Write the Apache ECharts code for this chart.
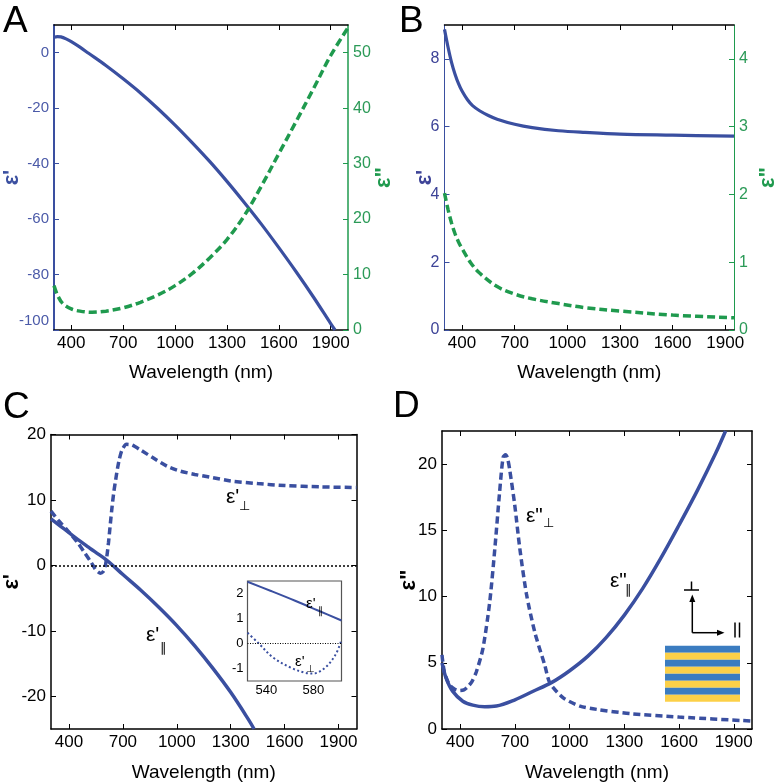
<!DOCTYPE html>
<html><head><meta charset="utf-8">
<script src="https://cdn.jsdelivr.net/npm/echarts@6/dist/echarts.min.js"></script>
<style>html,body{margin:0;padding:0;background:#fff}#c{width:780px;height:783px}</style>
</head><body><div id="c"></div><script>
// ---------- data (wavelength in nm) ----------
const xTickValues = [400, 700, 1000, 1300, 1600, 1900];
const insetXTicks = [540, 580];

// Panel A : metal
const aRealWl  = [300, 320, 340, 370, 400, 450, 500, 600, 700, 800, 900, 1000, 1100, 1200, 1300, 1400, 1500, 1600, 1700, 1800, 1900, 1925];
const aRealEps = [5.6, 5.8, 5.7, 5.0, 4.0, 2.0, -0.2, -4.6, -9.4, -14.5, -20.1, -26.1, -32.5, -39.2, -46.4, -54.0, -61.9, -70.3, -79.0, -88.1, -97.7, -100];
const aImagWl  = [300, 320, 350, 400, 450, 520, 600, 700, 800, 900, 1000, 1100, 1200, 1300, 1400, 1500, 1600, 1700, 1800, 1900, 2000];
const aImagEps = [8.0, 6.3, 4.8, 3.8, 3.4, 3.2, 3.4, 4.0, 5.0, 6.3, 8.0, 10.2, 13.0, 16.3, 20.6, 26.0, 31.8, 37.6, 43.5, 49.5, 54.5];
const aLeftTicks  = [-100, -80, -60, -40, -20, 0];
const aRightTicks = [0, 10, 20, 30, 40, 50];

// Panel B : dielectric
const bRealWl  = [300, 320, 340, 360, 380, 400, 430, 460, 500, 550, 600, 700, 800, 950, 1100, 1300, 1600, 1950];
const bRealEps = [8.87, 8.35, 7.9, 7.55, 7.27, 7.05, 6.8, 6.62, 6.47, 6.33, 6.22, 6.07, 5.97, 5.88, 5.83, 5.78, 5.75, 5.72];
const bImagWl  = [300, 320, 340, 360, 380, 400, 450, 500, 600, 700, 800, 950, 1100, 1300, 1600, 1950];
const bImagEps = [2.02, 1.78, 1.58, 1.42, 1.3, 1.2, 0.99, 0.84, 0.64, 0.53, 0.46, 0.39, 0.33, 0.28, 0.22, 0.18];
const bLeftTicks  = [0, 2, 4, 6, 8];
const bRightTicks = [0, 1, 2, 3, 4];

// Panel C : effective eps'
const cParWl   = [300, 350, 400, 450, 500, 524, 563, 604, 650, 700, 800, 900, 1000, 1100, 1200, 1300, 1400, 1430];
const cParEps  = [7.1, 6.05, 5.0, 3.95, 2.95, 2.47, 1.73, 0.92, -0.15, -1.4, -3.8, -6.4, -9.2, -12.3, -15.7, -19.4, -23.6, -25];
const cPerpWl  = [300, 340, 390, 450, 490, 524, 546, 561, 575, 590, 600, 610, 620, 630, 640, 650, 660, 670, 680, 695, 720, 750, 800, 870, 950, 1020, 1100, 1200, 1300, 1450, 1600, 1800, 2000];
const cPerpEps = [8.3, 6.9, 5.4, 3.4, 1.8, 0.43, -0.57, -0.97, -1.2, -0.97, -0.35, 1.2, 3.5, 6.3, 9.0, 11.3, 13.1, 14.8, 16.2, 17.6, 18.5, 18.4, 17.6, 16.4, 15.1, 14.4, 13.9, 13.4, 12.9, 12.5, 12.2, 12.0, 11.9];
const cYTicks  = [-20, -10, 0, 10, 20];

// Panel C inset
const insetParWl   = [524, 544, 564, 584, 604];
const insetParEps  = [2.47, 2.1, 1.72, 1.32, 0.92];
const insetPerpWl  = [524, 533, 546, 561, 573, 580, 590, 599, 604];
const insetPerpEps = [0.43, 0.03, -0.57, -0.97, -1.17, -1.2, -0.97, -0.44, 0.15];
const insetYTicks  = [-1, 0, 1, 2];

// Panel D : effective eps''
const dParWl   = [300, 323, 359, 414, 469, 534, 598, 700, 800, 900, 1000, 1100, 1200, 1300, 1400, 1500, 1600, 1700, 1800, 1855];
const dParEps  = [5.0, 3.83, 2.84, 2.1, 1.8, 1.68, 1.73, 2.2, 2.85, 3.5, 4.4, 5.5, 6.9, 8.6, 10.6, 12.9, 15.4, 18.0, 20.8, 22.5];
const dPerpWl  = [300, 313, 341, 370, 396, 420, 442, 465, 488, 524, 561, 589, 616, 635, 649, 660, 671, 699, 726, 763, 809, 864, 892, 965, 1057, 1149, 1332, 1600, 2000];
const dPerpEps = [5.6, 4.3, 3.33, 3.0, 2.9, 2.95, 3.2, 3.6, 4.3, 6.05, 9.5, 13.5, 17.9, 20.5, 20.7, 20.4, 19.6, 16.9, 13.7, 10.2, 7.3, 4.8, 3.46, 2.35, 1.73, 1.48, 1.16, 0.9, 0.6];
const dYTicks  = [0, 5, 10, 15, 20];

// ---------- styling ----------
const FONT = "'Liberation Sans', Arial, Helvetica, sans-serif";
const BLUE = '#3a4fa0';
const GREEN = '#1f9a4e';
const BLUE_TXT = '#4b5aa8';
const BLUE_TXT_B = '#3d4397';
const GREEN_TXT = '#2b9a57';
const plain = v => String(v);

const zip = (xs, ys) => xs.map((x, i) => [x, ys[i]]);

function xPair(gi, min, max, ticks, o) {
  o = o || {};
  const base = {
    type: 'value', gridIndex: gi, min: min, max: max,
    splitLine: { show: false },
    axisLine: { show: o.noLine ? false : true, onZero: false, lineStyle: { color: o.color || '#000', width: o.lw || 1.5 } },
    axisTick: { show: true, inside: true, length: o.tl || 5, customValues: ticks, lineStyle: { color: o.tickColor || '#000', width: 1 } }
  };
  const bottom = Object.assign({}, base, {
    position: 'bottom',
    axisLabel: { show: true, customValues: ticks, formatter: plain, fontSize: o.fs || 17, color: '#000', margin: o.margin || 5, fontFamily: FONT },
    name: o.name || '', nameLocation: 'middle', nameGap: o.nameGap || 33, nameMoveOverlap: false,
    nameTextStyle: { fontSize: 19, color: '#000', fontFamily: FONT }
  });
  const top = Object.assign({}, base, { position: 'top', axisLabel: { show: false } });
  return [bottom, top];
}

function yAx(gi, pos, min, max, ticks, o) {
  o = o || {};
  const label = { show: o.label !== false, customValues: ticks, formatter: o.formatter || plain, fontSize: o.fs || 17, color: o.textColor || '#000', margin: o.margin || 5, fontFamily: FONT };
  if (o.rich) label.rich = o.rich;
  return {
    type: 'value', gridIndex: gi, position: pos, min: min, max: max,
    splitLine: { show: false },
    axisLine: { show: o.noLine ? false : true, onZero: false, lineStyle: { color: o.color || '#000', width: o.lw || 1.5 } },
    axisTick: { show: true, inside: true, length: o.tl || 5, customValues: ticks, lineStyle: { color: o.tickColor || o.color || '#000', width: 1 } },
    axisLabel: label,
    name: o.name || '', nameLocation: 'middle', nameRotate: 90, nameGap: o.nameGap || 20, nameMoveOverlap: false,
    nameTextStyle: { fontSize: 22, fontWeight: 'bold', color: o.nameColor || '#000', fontFamily: FONT }
  };
}

const xAxes = [].concat(
  xPair(0, 300, 2000, xTickValues, { name: 'Wavelength (nm)', nameGap: 33 }),
  xPair(1, 300, 1950, xTickValues, { name: 'Wavelength (nm)', nameGap: 33 }),
  xPair(2, 300, 2000, xTickValues, { name: 'Wavelength (nm)', nameGap: 34 }),
  xPair(3, 300, 2000, xTickValues, { name: 'Wavelength (nm)', nameGap: 34 }),
  xPair(4, 524, 604, insetXTicks, { noLine: true, fs: 13, margin: 3, tl: 3, tickColor: '#333' })
);

const yAxes = [
  yAx(0, 'left', -100, 10, aLeftTicks, { color: BLUE, lw: 2, textColor: BLUE_TXT, fs: 15, name: "ε'", nameColor: BLUE, nameGap: 31,
    formatter: v => (v === -100 ? '{up|-100}' : String(v)),
    rich: { up: { fontSize: 15, color: BLUE_TXT, fontFamily: FONT, padding: [0, 0, 18, 0] } } }),
  yAx(0, 'right', 0, 55, aRightTicks, { color: GREEN, lw: 1.5, textColor: GREEN_TXT, fs: 16, name: 'ε"', nameColor: GREEN, nameGap: 25 }),
  yAx(1, 'left', 0, 9, bLeftTicks, { color: BLUE, lw: 1, textColor: BLUE_TXT_B, fs: 16, name: "ε'", nameColor: BLUE_TXT_B, nameGap: 9 }),
  yAx(1, 'right', 0, 4.5, bRightTicks, { color: GREEN, lw: 1, textColor: GREEN_TXT, fs: 16, name: 'ε"', nameColor: GREEN, nameGap: 23 }),
  yAx(2, 'left', -25, 20, cYTicks, { name: "ε'", nameGap: 28 }),
  yAx(2, 'right', -25, 20, cYTicks, { label: false }),
  yAx(3, 'left', 0, 22.5, dYTicks, { name: 'ε"', nameGap: 22 }),
  yAx(3, 'right', 0, 22.5, dYTicks, { label: false }),
  yAx(4, 'left', -1.5, 2.5, insetYTicks, { noLine: true, fs: 13, margin: 4, tl: 3, tickColor: '#333' }),
  yAx(4, 'right', -1.5, 2.5, insetYTicks, { noLine: true, label: false, tl: 3, tickColor: '#333' })
];

function line(xi, yi, data, color, width, dash, smooth) {
  return {
    type: 'line', xAxisIndex: xi, yAxisIndex: yi, data: data, showSymbol: false, symbol: 'none',
    smooth: smooth === undefined ? 0.35 : smooth, animation: false, silent: true,
    lineStyle: { color: color, width: width, type: dash || 'solid', cap: 'butt' }
  };
}

const series = [
  line(0, 0, zip(aRealWl, aRealEps), BLUE, 3.2),
  line(0, 1, zip(aImagWl, aImagEps), GREEN, 3.5, [8, 4]),
  line(2, 2, zip(bRealWl, bRealEps), BLUE, 3.2),
  line(2, 3, zip(bImagWl, bImagEps), GREEN, 3.5, [8, 4]),
  Object.assign(line(4, 4, zip(cParWl, cParEps), BLUE, 3.5), {
    markLine: { silent: true, symbol: ['none', 'none'], label: { show: false },
      lineStyle: { color: '#000', type: [2, 2], width: 1.5 }, data: [{ yAxis: 0 }] }
  }),
  line(4, 4, zip(cPerpWl, cPerpEps), BLUE, 3.5, [7, 4], 0.25),
  line(6, 6, zip(dParWl, dParEps), BLUE, 3.5),
  line(6, 6, zip(dPerpWl, dPerpEps), BLUE, 3.5, [7, 4], 0.25),
  Object.assign(line(8, 8, zip(insetParWl, insetParEps), BLUE, 2), {
    markLine: { silent: true, symbol: ['none', 'none'], label: { show: false },
      lineStyle: { color: '#000', type: [1, 1.5], width: 1 }, data: [{ yAxis: 0 }] }
  }),
  line(8, 8, zip(insetPerpWl, insetPerpEps), BLUE, 2, [2, 2.5])
];

function txt(text, x, y, size, color, weight) {
  return { type: 'text', x: x, y: y, silent: true, z: 100,
    style: { text: text, fontSize: size, fontFamily: FONT, fill: color || '#000', fontWeight: weight || 'normal', textAlign: 'left', textVerticalAlign: 'middle' } };
}
function seg(x1, y1, x2, y2, w) {
  return { type: 'line', silent: true, z: 100, shape: { x1: x1, y1: y1, x2: x2, y2: y2 }, style: { stroke: '#000', lineWidth: w || 1.5 } };
}
function tri(points) {
  return { type: 'polygon', silent: true, z: 100, shape: { points: points }, style: { fill: '#000' } };
}

const stripeColors = ['#3b7cc0', '#fcd048', '#3b7cc0', '#fcd048', '#3b7cc0', '#fcd048', '#3b7cc0', '#fcd048'];
const stripes = stripeColors.map((c, i) => ({ type: 'rect', silent: true, z: 100, shape: { x: 665, y: 645.7 + i * 7, width: 75, height: 7.1 }, style: { fill: c } }));

const graphics = [
  txt('A', 3, 22, 37), txt('B', 399, 22, 37), txt('C', 3, 408, 37), txt('D', 393, 407, 37),
  // panel C labels
  txt("ε'", 226, 497, 21), txt('⊥', 239, 506, 13),
  txt("ε'", 146, 635, 21), txt('∥', 160, 648, 13),
  // inset labels
  txt("ε'", 306, 604, 15), txt('∥', 318, 611, 10),
  txt("ε'", 295, 662, 15), txt('⊥', 306, 669, 10),
  // panel D labels
  txt('ε"', 526, 516, 21), txt('⊥', 543, 523.5, 13),
  txt('ε"', 610, 581, 21), txt('∥', 625, 590, 13)
].concat(stripes, [
  seg(684, 590, 699, 590, 1.5), seg(691.5, 581.5, 691.5, 590, 1.5),
  seg(692.3, 632.7, 692.3, 600, 1.5), tri([[692.3, 594.5], [689.3, 602], [695.3, 602]]),
  seg(692.3, 632.7, 718, 632.7, 1.5), tri([[724.5, 632.7], [717, 629.7], [717, 635.7]]),
  seg(735, 622.5, 735, 637.5, 1.5), seg(739.5, 622.5, 739.5, 637.5, 1.5)
]);

const chart = echarts.init(document.getElementById('c'), null, { renderer: 'canvas' });
chart.setOption({
  animation: false,
  backgroundColor: '#fff',
  textStyle: { fontFamily: FONT },
  grid: [
    { left: 51, top: 25, width: 297, height: 305 },
    { left: 444.5, top: 25, width: 290.5, height: 305 },
    { left: 51, top: 434.5, width: 305.5, height: 300 },
    { left: 442, top: 431, width: 310, height: 305 },
    { left: 247.5, top: 581, width: 94, height: 100, show: true, borderColor: '#555', borderWidth: 1.2, backgroundColor: '#fff', z: 3 }
  ],
  xAxis: xAxes,
  yAxis: yAxes,
  series: series,
  graphic: graphics
});
</script></body></html>
